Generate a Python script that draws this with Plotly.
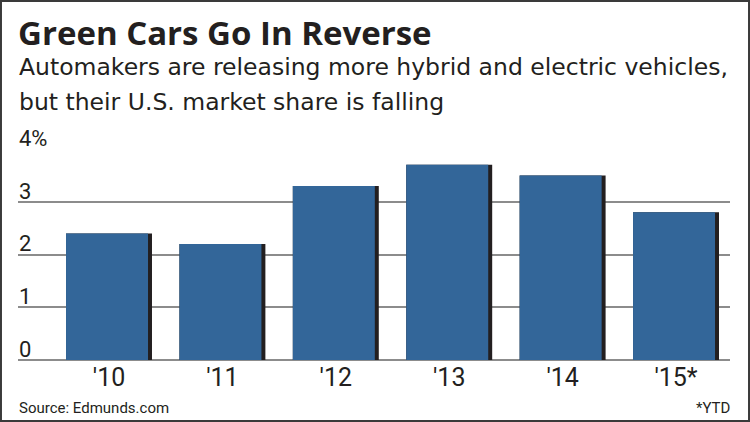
import plotly.graph_objects as go

years = ["'10", "'11", "'12", "'13", "'14", "'15*"]
share = [2.4, 2.2, 3.3, 3.7, 3.5, 2.8]
ytick_vals = [0, 1, 2, 3, 4]
ytick_text = ["0", "1", "2", "3", "4%"]

title = "Green Cars Go In Reverse"
subtitle1 = "Automakers are releasing more hybrid and electric vehicles,"
subtitle2 = "but their U.S. market share is falling"
source = "Source: Edmunds.com"
note = "*YTD"

W, H = 750, 422
BAR = "#336699"
SHADOW = "#231f20"
GRID = "#8c8c8c"
INK = "#231f20"

def py(px):
    return 1 - px / H

fig = go.Figure()
fig.add_trace(go.Bar(x=years, y=share, width=0.758, offset=-0.379,
                     marker=dict(color=SHADOW, line=dict(width=0)), hoverinfo="skip"))
fig.add_trace(go.Bar(x=years, y=share, width=0.723, offset=-0.379,
                     marker=dict(color=BAR, line=dict(width=0))))

fig.update_layout(
    width=W, height=H,
    margin=dict(l=0, r=0, t=0, b=0),
    paper_bgcolor="white", plot_bgcolor="white",
    barmode="overlay", showlegend=False,
    xaxis=dict(domain=[18 / W, 730 / W], range=[-0.8025, 5.476], type="category",
               showgrid=False, zeroline=False, showline=False, ticks="",
               tickfont=dict(family="Roboto", size=25, color=INK),
               ticklabelstandoff=0),
    yaxis=dict(domain=[py(360), py(149)], range=[0, 4], showgrid=True,
               gridcolor=GRID, gridwidth=1.5, zeroline=True, zerolinecolor=GRID,
               zerolinewidth=1.5, showticklabels=False, tickvals=ytick_vals, ticks=""),
    font=dict(family="Roboto", color=INK),
)

for v, t in zip(ytick_vals, ytick_text):
    fig.add_annotation(x=18 / W, xref="paper", y=v, yref="y", text=t, showarrow=False,
                       xanchor="left", yanchor="bottom", borderpad=0, yshift=-3,
                       font=dict(family="Roboto", size=22, color=INK))

fig.add_annotation(x=17 / W, y=py(9), xref="paper", yref="paper", text="<b>" + title + "</b>",
                   showarrow=False, xanchor="left", yanchor="top", borderpad=0,
                   font=dict(family="Open Sans", size=33, color=INK))
fig.add_annotation(x=18 / W, y=py(52), xref="paper", yref="paper", text=subtitle1,
                   showarrow=False, xanchor="left", yanchor="top", borderpad=0,
                   font=dict(family="DejaVu Sans", size=23.5, color=INK))
fig.add_annotation(x=18 / W, y=py(87), xref="paper", yref="paper", text=subtitle2,
                   showarrow=False, xanchor="left", yanchor="top", borderpad=0,
                   font=dict(family="DejaVu Sans", size=23.5, color=INK))
fig.add_annotation(x=18 / W, y=py(398), xref="paper", yref="paper", text=source,
                   showarrow=False, xanchor="left", yanchor="top", borderpad=0,
                   font=dict(family="Roboto", size=15, color=INK))
fig.add_annotation(x=731 / W, y=py(398), xref="paper", yref="paper", text=note,
                   showarrow=False, xanchor="right", yanchor="top", borderpad=0,
                   font=dict(family="Roboto", size=15, color=INK))

fig.add_shape(type="rect", xref="paper", yref="paper", x0=0.0013, y0=0.0024, x1=0.9987, y1=0.9976,
              line=dict(color="#3a3a3a", width=2))

fig.write_html("out.html", config={"displayModeBar": False},
               post_script="document.body.style.margin='0px';document.body.style.overflow='hidden';")
